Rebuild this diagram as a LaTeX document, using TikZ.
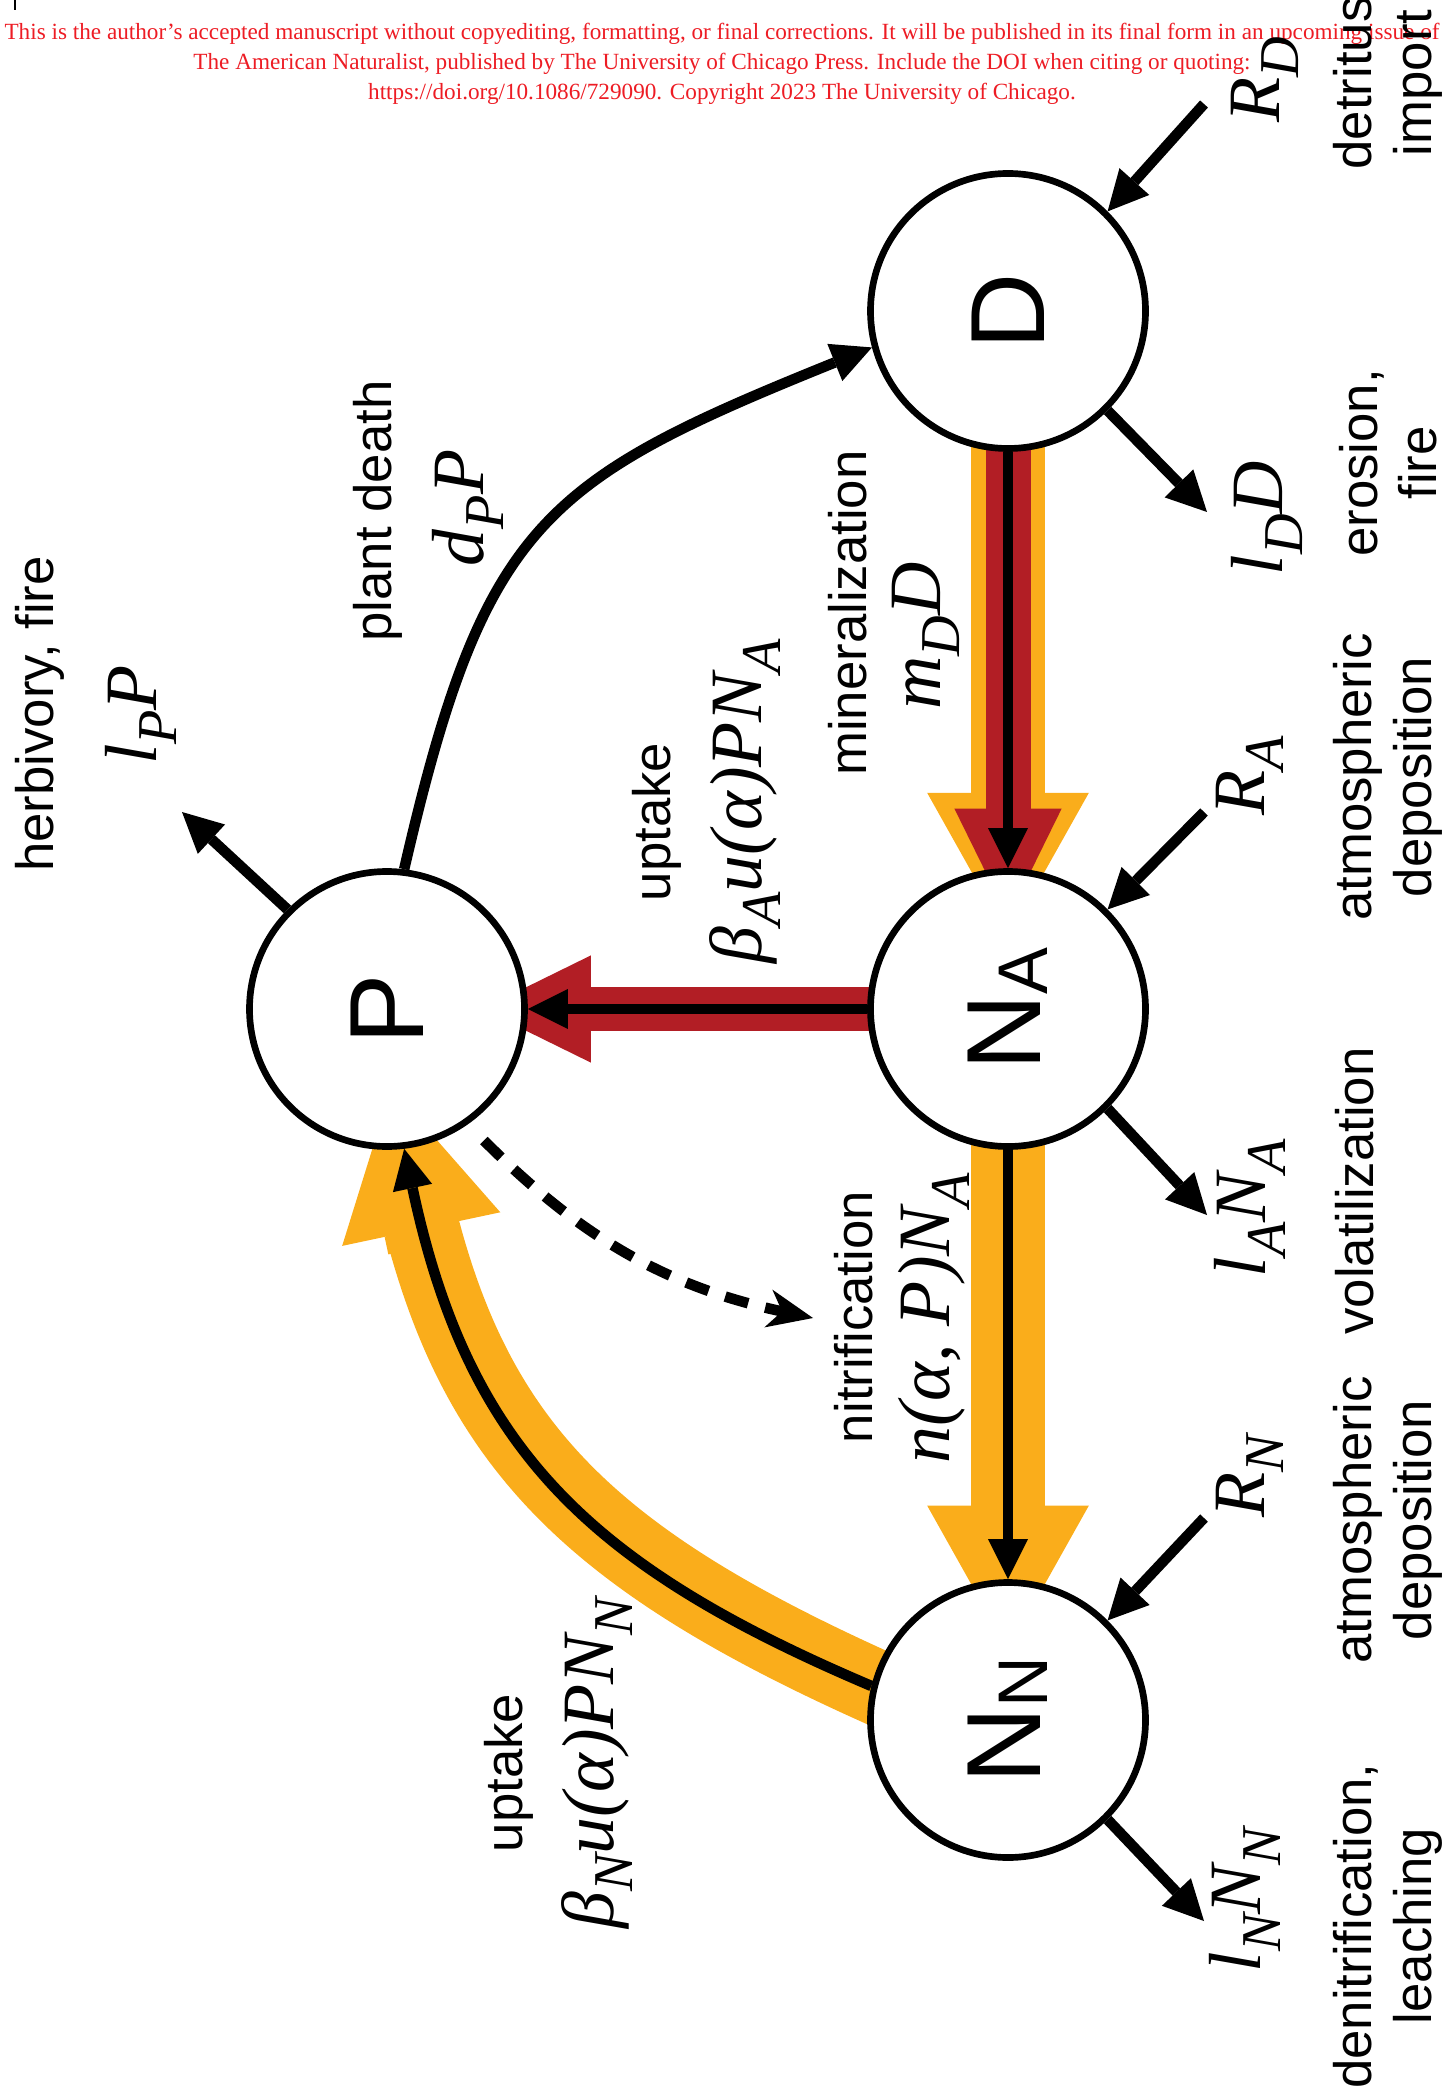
\documentclass[tikz,border=0pt]{standalone}
\usepackage{fontspec}
\setmainfont{Liberation Serif}
\setsansfont{Liberation Sans}
\newfontfamily\mathserif{Liberation Serif}
\usepackage{graphicx}
\usetikzlibrary{arrows.meta,backgrounds,calc}

\definecolor{flowgold}{RGB}{250,173,27}
\definecolor{flowred}{RGB}{178,30,37}
\definecolor{noticered}{RGB}{237,28,36}

% subscripts for the rates and for the pool names
\newcommand{\subtxt}[1]{\raisebox{-5.5pt}{\fontsize{16}{16}\selectfont #1}}
\newcommand{\poolsub}[1]{\raisebox{-2pt}{\fontsize{20}{20}\selectfont #1}}

\tikzset{
  pool/.style={circle, draw, line width=1.9pt, fill=white, minimum size=2.75cm, inner sep=0pt, font=\sffamily\fontsize{30}{30}\selectfont},
  word/.style={rotate=90, inner sep=0pt, align=center, font=\sffamily\fontsize{15}{17}\selectfont},
  rate/.style={rotate=90, inner sep=0pt, font=\mathserif\itshape\fontsize{21}{21}\selectfont},
  flux/.style={line width=3pt, -{Triangle[length=11.4pt,width=11.4pt,line width=0pt]}},
  goldshaft/.style={draw=flowgold, line width=21.3pt},
  goldflow/.style={goldshaft, -{Triangle[length=41pt,width=46pt,line width=0pt]}},
  redflow/.style={draw=flowred, line width=12.8pt, -{Triangle[length=31pt,width=30.5pt,line width=0pt]}},
}

\begin{document}
\begin{tikzpicture}
\useasboundingbox (0,0) rectangle (14.45,-20.91);

% notice
\draw[line width=0.4pt] (0.15,0) -- (0.15,-0.10);
\node[font=\fontsize{6.6}{8.6}\selectfont, text=noticered, align=center, inner sep=0pt] (notice) at (7.22,-0.64)
  {This is the author's accepted manuscript without copyediting, formatting, or final corrections. It will be published in its final form in an upcoming issue of\\
   The American Naturalist, published by The University of Chicago Press. Include the DOI when citing or quoting:\\
   https://doi.org/10.1086/729090. Copyright 2023 The University of Chicago.};

% pools
\node[pool] (D) at (10.08,-3.11) {\rotatebox{90}{D}};
\node[pool] (NA) at (10.08,-10.09) {\rotatebox{90}{N\poolsub{A}}};
\node[pool] (NN) at (10.08,-17.20) {\rotatebox{90}{N\poolsub{N}}};
\node[pool] (P) at (3.87,-10.09) {\rotatebox{90}{P}};

% free ends
\coordinate (inD) at (12.04,-1.04);
\coordinate (outD) at (12.07,-5.12);
\coordinate (inNA) at (12.04,-8.12);
\coordinate (outNA) at (12.07,-12.15);
\coordinate (inNN) at (12.04,-15.18);
\coordinate (outNN) at (12.04,-19.21);
\coordinate (outP) at (1.82,-8.12);
\coordinate (nitrif) at (8.13,-13.18);

% wide flows
\begin{scope}[on background layer]
  \draw[goldflow, shorten >=20.5pt] (D.center) -- (NA.center);
  \draw[redflow, shorten >=26pt] (D.center) -- (NA.center);
  \draw[goldflow, shorten >=20pt] (NA.center) -- (NN.center);
  \draw[redflow, shorten >=27pt] (NA.center) -- (P.center);
  \draw[goldshaft, shorten >=8pt, shorten <=-20pt] (NN.166) to[out=157,in=-78,looseness=1.1] (P.-83);
  \draw[goldflow] ($(P.-83)+(-78:1.0)$) -- ($(P.-83)+(102:0.62)$);
\end{scope}

% fluxes
\draw[flux] (D) -- (NA);
\draw[flux] (NA) -- (NN);
\draw[flux] (NA) -- (P);
\draw[flux] (NN.166) to[out=157,in=-78,looseness=1.1] (P.-83);
\draw[flux] (P.83) to[out=77,in=202,looseness=1.3] (D.195);
\draw[flux, dash pattern=on 6.8pt off 5pt, shorten <=6.5pt, -{Stealth[length=13pt,width=11pt,inset=4pt,line width=0pt]}] (P.-55) to[out=-45,in=168] (nitrif);

\draw[flux] (inD) -- (D.45);
\draw[flux] (D.-45) -- (outD);
\draw[flux] (inNA) -- (NA.45);
\draw[flux] (NA.-45) -- (outNA);
\draw[flux] (inNN) -- (NN.45);
\draw[flux] (NN.-45) -- (outNN);
\draw[flux] (P.135) -- (outP);

% process names
\node[word] (detritus) at (13.88,-0.83) {detritus\\import};
\node[word] (erosion) at (13.88,-4.63) {erosion,\\fire};
\node[word] (atmA) at (13.88,-7.77) {atmospheric\\deposition};
\node[word] (volat) at (13.55,-11.91) {volatilization};
\node[word] (atmN) at (13.88,-15.20) {atmospheric\\deposition};
\node[word] (denit) at (13.88,-19.26) {denitrification,\\leaching};
\node[word] (herb) at (0.40,-7.14) {herbivory, fire};
\node[word] (death) at (3.78,-5.11) {plant death};
\node[word] (uptA) at (6.57,-8.22) {uptake};
\node[word] (miner) at (8.48,-6.13) {mineralization};
\node[word] (nitr) at (8.54,-13.17) {nitrification};
\node[word] (uptN) at (5.09,-17.73) {uptake};

% rates
\node[rate] (rD) at (12.65,-0.80) {R\subtxt{D}};
\node[rate] (lD) at (12.67,-5.18) {l\subtxt{D}D};
\node[rate] (rA) at (12.50,-7.76) {R\subtxt{A}};
\node[rate] (lA) at (12.50,-12.08) {l\subtxt{A}N\subtxt{A}};
\node[rate] (rN) at (12.50,-14.76) {R\subtxt{N}};
\node[rate] (lN) at (12.45,-19.00) {l\subtxt{N}N\subtxt{N}};
\node[rate] (lP) at (1.41,-7.15) {l\subtxt{P}P};
\node[rate] (dP) at (4.68,-5.08) {d\subtxt{P}P};
\node[rate] (uA) at (7.45,-8.01) {β\subtxt{A}u(α)PN\subtxt{A}};
\node[rate] (mD) at (9.26,-6.36) {m\subtxt{D}D};
\node[rate] (nA) at (9.34,-13.18) {n(α, P)N\subtxt{A}};
\node[rate] (uN) at (5.97,-17.63) {β\subtxt{N}u(α)PN\subtxt{N}};
\end{tikzpicture}
\end{document}
